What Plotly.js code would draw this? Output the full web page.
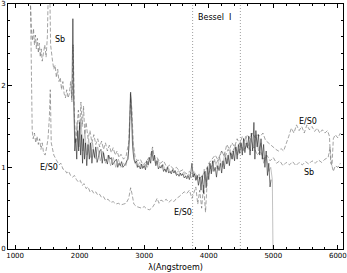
<!DOCTYPE html>
<html>
<head>
<meta charset="utf-8">
<script src="https://cdn.plot.ly/plotly-3.0.1.min.js"></script>
<style>
    html, body { margin: 0; padding: 0; background: #fff; }
    #spec-graph { width: 347px; height: 273px; }
</style>
</head>
<body>
<div id="spec-graph"></div>
<script>
// observed spectrum (black)
var obsWave = [1880, 1895, 1910, 1925, 1940, 1955, 1970, 1985, 2000, 2015, 2030, 2045, 2060, 2075, 2090, 2110, 2130, 2150, 2170, 2190,
    2210, 2230, 2250, 2270, 2290, 2310, 2330, 2350, 2370, 2390, 2410, 2430, 2450, 2470, 2490, 2510, 2530, 2550, 2570, 2590,
    2610, 2630, 2650, 2670, 2690, 2710, 2730, 2750, 2770, 2790, 2805, 2820, 2840, 2860, 2880, 2900, 2920, 2940, 2960, 2980,
    3000, 3020, 3040, 3060, 3080, 3100, 3120, 3140, 3160, 3180, 3200, 3220, 3240, 3260, 3280, 3300, 3320, 3340, 3360, 3380,
    3400, 3420, 3440, 3460, 3480, 3500, 3520, 3540, 3560, 3580, 3600, 3620, 3640, 3660, 3680, 3700, 3720, 3740, 3760, 3780,
    3800, 3820, 3840, 3860, 3880, 3900, 3920, 3940, 3960, 3980, 4000, 4020, 4040, 4060, 4080, 4100, 4120, 4140, 4160, 4180,
    4200, 4220, 4240, 4260, 4280, 4300, 4320, 4340, 4360, 4380, 4400, 4420, 4440, 4460, 4480, 4500, 4520, 4540, 4560, 4580,
    4600, 4620, 4640, 4660, 4680, 4700, 4715, 4730, 4750, 4770, 4790, 4810, 4830, 4850, 4870, 4890, 4910, 4930, 4950, 4965];
var obsFlux = [1.85, 2.82, 1.8, 1.2, 1.35, 1.1, 1.45, 1.2, 1.55, 1.15, 1.4, 1.05, 1.35, 1.1, 1.3, 1.02, 1.28, 1.1, 1.3, 1.05,
    1.22, 1.12, 1.25, 1.06, 1.12, 1.2, 1.22, 1.05, 1.18, 1.08, 1.1, 1.04, 1.15, 1.1, 1.12, 1.03, 1.06, 1.08, 1.1, 1.0,
    1.05, 1.02, 1.07, 1.0, 1.02, 1.04, 1.08, 1.1, 1.35, 1.92, 1.6, 1.25, 1.1, 1.05, 1.08, 1.0, 1.02, 0.98, 1.04, 0.99,
    1.02, 0.97, 1.08, 1.03, 1.12, 1.05, 1.2, 1.08, 1.15, 1.02, 1.08, 0.98, 1.01, 0.99, 1.03, 0.95, 0.98, 0.94, 1.0, 0.93,
    0.95, 0.92, 0.97, 0.93, 0.96, 0.9, 0.92, 0.89, 0.93, 0.9, 0.92, 0.87, 0.89, 0.86, 0.9, 0.85, 0.92, 1.05, 0.88, 0.92,
    0.84, 0.9, 0.78, 0.88, 0.72, 0.9, 0.68, 0.95, 0.75, 1.0, 0.85, 1.05, 0.92, 1.08, 0.95, 1.0, 0.88, 1.02, 0.96, 1.05,
    0.93, 1.08, 0.98, 1.12, 1.04, 1.15, 1.02, 1.18, 1.1, 1.2, 1.08, 1.25, 1.1, 1.28, 1.17, 1.3, 1.15, 1.35, 1.18, 1.3,
    1.24, 1.38, 1.15, 1.42, 1.2, 1.55, 1.1, 1.45, 1.25, 1.4, 1.15, 1.35, 1.1, 1.28, 1.0, 1.2, 0.9, 1.05, 0.76, 0.85];

// second spectrum (gray), drops to zero at the red end
var obs2Wave = [1900, 1930, 1960, 1990, 2020, 2050, 2080, 2110, 2140, 2170, 2200, 2240, 2280, 2320, 2360, 2400, 2440, 2480, 2520, 2560,
    2600, 2640, 2680, 2720, 2760, 2785, 2800, 2820, 2850, 2890, 2930, 2970, 3010, 3050, 3090, 3130, 3170, 3210, 3250, 3290,
    3330, 3370, 3410, 3450, 3490, 3530, 3570, 3610, 3650, 3690, 3730, 3770, 3810, 3850, 3890, 3930, 3970, 4010, 4050, 4090,
    4130, 4170, 4210, 4250, 4290, 4330, 4370, 4410, 4450, 4490, 4530, 4570, 4610, 4650, 4690, 4730, 4770, 4810, 4850, 4890,
    4930, 4960, 4985, 4995];
var obs2Flux = [2.0, 1.3, 1.55, 1.25, 1.6, 1.2, 1.45, 1.15, 1.35, 1.12, 1.3, 1.1, 1.25, 1.08, 1.2, 1.05, 1.15, 1.02, 1.12, 1.0,
    1.1, 1.0, 1.05, 1.02, 1.2, 1.9, 1.85, 1.4, 1.1, 1.0, 1.06, 0.98, 1.04, 1.0, 1.1, 1.22, 1.05, 1.1, 1.0, 1.04,
    0.96, 1.0, 0.94, 0.98, 0.92, 0.96, 0.9, 0.94, 0.88, 0.92, 0.87, 0.95, 0.85, 0.92, 0.8, 0.98, 0.82, 1.05, 0.95, 1.1,
    0.98, 1.12, 1.0, 1.18, 1.05, 1.22, 1.1, 1.28, 1.15, 1.32, 1.2, 1.38, 1.22, 1.35, 1.25, 1.4, 1.2, 1.3, 1.05, 1.15,
    0.95, 1.0, 0.85, 0.0];

// Sb template
var sbWave = [1230, 1240, 1255, 1270, 1285, 1300, 1315, 1330, 1345, 1360, 1375, 1390, 1405, 1420, 1440, 1460, 1480, 1500, 1515, 1535,
    1550, 1565, 1580, 1600, 1620, 1640, 1660, 1680, 1700, 1720, 1740, 1760, 1780, 1800, 1820, 1840, 1860, 1880, 1900, 1920,
    1940, 1960, 1980, 2000, 2020, 2040, 2060, 2080, 2100, 2130, 2160, 2190, 2220, 2250, 2280, 2310, 2340, 2370, 2400, 2430,
    2460, 2490, 2520, 2550, 2580, 2610, 2640, 2680, 2720, 2760, 2790, 2810, 2830, 2860, 2900, 2940, 2980, 3020, 3060, 3100,
    3130, 3160, 3200, 3250, 3300, 3350, 3400, 3450, 3500, 3550, 3600, 3650, 3700, 3750, 3800, 3850, 3900, 3950, 4000, 4050,
    4100, 4150, 4200, 4250, 4300, 4350, 4400, 4450, 4500, 4550, 4600, 4650, 4700, 4750, 4800, 4850, 4900, 4950, 5000, 5050,
    5100, 5150, 5200, 5250, 5300, 5350, 5400, 5450, 5500, 5550, 5600, 5650, 5700, 5750, 5800, 5850, 5880, 5900, 5930, 5960,
    6000, 6040];
var sbFlux = [3.2, 2.9, 2.65, 2.55, 2.7, 2.5, 2.62, 2.45, 2.58, 2.4, 2.52, 2.35, 2.45, 2.3, 2.4, 2.5, 2.35, 2.6, 3.2, 3.3,
    2.5, 2.35, 2.3, 2.2, 2.25, 2.1, 2.2, 2.05, 2.1, 1.95, 2.05, 1.9, 1.85, 1.95, 1.85, 1.9, 2.05, 1.8, 2.5, 1.6,
    1.3, 1.5, 1.7, 1.45, 1.8, 1.5, 1.75, 1.4, 1.55, 1.35, 1.45, 1.3, 1.4, 1.28, 1.35, 1.25, 1.32, 1.22, 1.3, 1.2,
    1.27, 1.18, 1.24, 1.15, 1.2, 1.12, 1.16, 1.1, 1.14, 1.3, 1.85, 1.7, 1.3, 1.12, 1.08, 1.1, 1.03, 1.06, 1.1, 1.15,
    1.25, 1.1, 1.12, 1.05, 1.08, 1.0, 1.03, 0.98, 1.0, 0.95, 0.97, 0.92, 0.95, 0.9, 0.93, 0.85, 0.9, 0.95, 1.05, 1.1,
    1.15, 1.08, 1.2, 1.12, 1.22, 1.15, 1.25, 1.18, 1.28, 1.2, 1.3, 1.2, 1.25, 1.15, 1.2, 1.1, 1.15, 1.08, 1.12, 1.05,
    1.08, 1.02, 1.06, 1.03, 1.07, 1.02, 1.06, 1.03, 1.07, 1.04, 1.08, 1.05, 1.09, 1.06, 1.1, 1.12, 1.25, 1.05, 0.95, 1.02,
    1.0, 1.05];

// E/S0 template
var eWave = [1235, 1245, 1255, 1265, 1280, 1300, 1320, 1340, 1360, 1380, 1400, 1420, 1440, 1465, 1490, 1510, 1530, 1545, 1560, 1580,
    1600, 1620, 1650, 1680, 1710, 1740, 1770, 1800, 1830, 1860, 1890, 1920, 1950, 1980, 2010, 2040, 2070, 2100, 2130, 2160,
    2190, 2220, 2250, 2280, 2310, 2340, 2370, 2400, 2440, 2480, 2520, 2560, 2600, 2640, 2680, 2720, 2760, 2790, 2810, 2840,
    2880, 2920, 2960, 3000, 3040, 3080, 3120, 3160, 3200, 3230, 3260, 3300, 3340, 3380, 3420, 3460, 3500, 3540, 3580, 3620,
    3660, 3700, 3740, 3770, 3800, 3830, 3860, 3890, 3920, 3950, 3980, 4010, 4040, 4080, 4120, 4160, 4200, 4240, 4280, 4320,
    4360, 4400, 4440, 4480, 4520, 4560, 4600, 4640, 4680, 4720, 4760, 4800, 4840, 4880, 4920, 4960, 5000, 5040, 5080, 5120,
    5160, 5200, 5240, 5280, 5320, 5360, 5400, 5440, 5480, 5520, 5560, 5600, 5640, 5680, 5720, 5760, 5800, 5840, 5870, 5890,
    5910, 5930, 5960, 6000, 6040];
var eFlux = [3.2, 2.5, 1.8, 1.45, 1.35, 1.42, 1.3, 1.38, 1.28, 1.35, 1.22, 1.3, 1.18, 1.15, 1.25, 1.35, 1.6, 1.95, 1.3, 1.2,
    1.15, 1.12, 1.08, 1.03, 1.05, 0.98, 0.97, 0.93, 0.95, 0.9, 0.88, 0.9, 0.85, 0.82, 0.84, 0.78, 0.8, 0.74, 0.76, 0.7,
    0.72, 0.68, 0.7, 0.66, 0.67, 0.63, 0.64, 0.6, 0.61, 0.57, 0.58, 0.55, 0.56, 0.54, 0.55, 0.56, 0.62, 0.75, 0.68, 0.55,
    0.52, 0.51, 0.5, 0.52, 0.49, 0.48, 0.5, 0.55, 0.62, 0.56, 0.6, 0.58, 0.61, 0.57, 0.6, 0.58, 0.62, 0.64, 0.67, 0.7,
    0.68, 0.72, 0.62, 0.7, 0.76, 0.55, 0.72, 0.5, 0.78, 0.45, 0.88, 0.95, 1.0, 1.08, 1.05, 1.12, 1.2, 1.15, 1.28, 1.22,
    1.3, 1.25, 1.35, 1.28, 1.38, 1.32, 1.4, 1.35, 1.42, 1.36, 1.4, 1.38, 1.42, 1.33, 1.3, 1.27, 1.25, 1.22, 1.2, 1.23,
    1.2, 1.28, 1.38, 1.48, 1.42, 1.52, 1.45, 1.5, 1.42, 1.52, 1.46, 1.5, 1.44, 1.48, 1.42, 1.46, 1.42, 1.45, 1.38, 1.05,
    1.02, 1.35, 1.4, 1.36, 1.42];

// Bessel I filter band edges
var besselEdges = [3750, 4490];

var xTicks = [1000, 2000, 3000, 4000, 5000, 6000];
var yTicks = [0, 1, 2, 3];

createSpecGraph();

function createSpecGraph() {
    var thin = 0.6;
    var data = [
        { x: sbWave, y: sbFlux, mode: 'lines', line: { color: '#666', width: thin, dash: '4px,2px' } },
        { x: eWave, y: eFlux, mode: 'lines', line: { color: '#666', width: thin, dash: '4px,2px' } },
        { x: obs2Wave, y: obs2Flux, mode: 'lines', line: { color: '#999', width: thin } },
        { x: obsWave, y: obsFlux, mode: 'lines', line: { color: '#222', width: thin } }
    ];
    for (var i = 0; i < besselEdges.length; i++) {
        data.push({
            x: [besselEdges[i], besselEdges[i]],
            y: [0, 3],
            mode: 'lines',
            line: { color: '#777', width: 0.7, dash: '1px,2px' }
        });
    }

    var tickFont = { family: 'DejaVu Sans', size: 7, color: '#000' };
    var labelFont = { family: 'DejaVu Sans', size: 8, color: '#000' };

    var layout = {
        width: 347,
        height: 273,
        showlegend: false,
        paper_bgcolor: '#fff',
        plot_bgcolor: '#fff',
        margin: { l: 8, r: 4, t: 4, b: 24 },
        xaxis: {
            range: [890, 6080],
            tickvals: xTicks,
            ticks: 'inside',
            ticklen: 4,
            tickcolor: '#000',
            showline: true,
            linecolor: '#000',
            linewidth: 1,
            mirror: 'ticks',
            showgrid: false,
            zeroline: false,
            tickfont: tickFont,
            minor: { dtick: 200, ticks: 'inside', ticklen: 2, tickcolor: '#000' },
            title: { text: 'λ(Angstroem)', font: labelFont, standoff: 4 }
        },
        yaxis: {
            range: [0, 3],
            tickvals: yTicks,
            ticks: 'inside',
            ticklen: 4,
            tickcolor: '#000',
            showline: true,
            linecolor: '#000',
            linewidth: 1,
            mirror: 'ticks',
            showgrid: false,
            zeroline: false,
            tickfont: tickFont,
            ticklabelstandoff: 0,
            minor: { dtick: 0.2, ticks: 'inside', ticklen: 2, tickcolor: '#000' }
        },
        annotations: [
            { x: 1700, y: 2.56, text: 'Sb', showarrow: false, font: labelFont },
            { x: 1530, y: 1.0, text: 'E/S0', showarrow: false, font: labelFont },
            { x: 3600, y: 0.45, text: 'E/S0', showarrow: false, font: labelFont },
            { x: 5540, y: 1.56, text: 'E/S0', showarrow: false, font: labelFont },
            { x: 5560, y: 0.94, text: 'Sb', showarrow: false, font: labelFont },
            { x: 3800, y: 2.84, text: 'Bessel  I', xanchor: 'left', showarrow: false, font: labelFont }
        ]
    };
    Plotly.newPlot('spec-graph', data, layout, { staticPlot: true });
}
</script>
</body>
</html>
